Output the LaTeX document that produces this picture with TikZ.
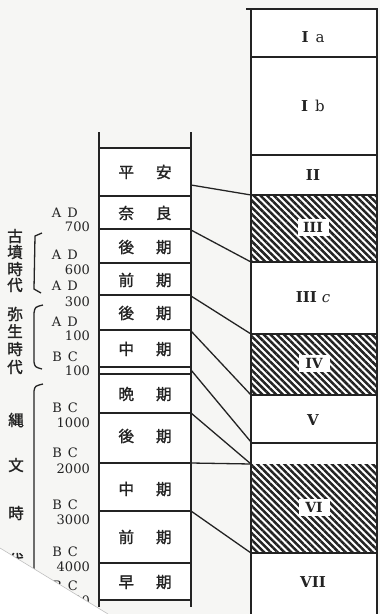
\documentclass[tikz,border=0pt]{standalone}
\usepackage{fontspec}
\newfontfamily\jp{Noto Sans CJK JP}[FakeBold=1.5]
\newfontfamily\ser{DejaVu Serif}
\usetikzlibrary{patterns.meta}
\definecolor{paper}{RGB}{246,246,244}
\definecolor{ink}{RGB}{35,35,35}
\tikzset{
  frame/.style={draw=ink, line width=1.4pt},
  link/.style={draw=ink, line width=1.3pt},
  hatch/.style={pattern={Lines[angle=-45,distance=4.8pt,line width=2.5pt]}, pattern color=ink},
  jlab/.style={font=\jp\fontsize{15.5}{15.5}\selectfont, inner sep=0pt, text=ink},
  vlab/.style={font=\jp\fontsize{15.5}{15.5}\selectfont, inner sep=0pt, text=ink},
  era/.style={font=\ser\fontsize{13}{13}\selectfont, inner sep=0pt, anchor=east, text=ink},
  yr/.style={font=\ser\fontsize{13}{13}\selectfont, inner sep=0pt, anchor=east, text=ink},
  rom/.style={font=\ser\bfseries\fontsize{15}{15}\selectfont, inner sep=0pt, text=ink},
  tag/.style={fill=white, inner sep=0pt, minimum width=31pt, minimum height=17pt, font=\ser\bfseries\fontsize{14}{14}\selectfont, text=ink},
  brk/.style={draw=ink, line width=1.3pt}
}
\begin{document}
\begin{tikzpicture}[x=1pt,y=-1pt]
\useasboundingbox (0,0) rectangle (380,614);
\fill[paper] (0,0) rectangle (380,614);
% right column
\fill[white] (251,9) rectangle (377,614);
\foreach \a/\b in {195/262, 334/395, 464/553}
  \fill[hatch] (251,\a) rectangle (377,\b);
\draw[frame] (246,9) -- (378,9);
\draw[frame] (251,9) -- (251,614);
\draw[frame] (377,9) -- (377,614);
\foreach \y in {57,155,195,262,334,395,443,553}
  \draw[frame] (251,\y) -- (377,\y);
% left column
\fill[white] (99,148) rectangle (191,600);
\draw[frame] (99,132) -- (99,607);
\draw[frame] (191,132) -- (191,607);
\foreach \y in {148,196,229,263,295,330,367,374,413,463,511,563,600}
  \draw[frame] (99,\y) -- (191,\y);
% connector end points
\coordinate (l1) at (191,185); \coordinate (r1) at (251,195);
\coordinate (l2) at (191,230); \coordinate (r2) at (251,262);
\coordinate (l3) at (191,296); \coordinate (r3) at (251,334);
\coordinate (l4) at (191,331); \coordinate (r4) at (251,395);
\coordinate (l5) at (191,370); \coordinate (r5) at (251,442);
\coordinate (l6) at (191,413); \coordinate (r6) at (251,464);
\coordinate (l7) at (191,463); \coordinate (r7) at (251,464);
\coordinate (l8) at (191,511); \coordinate (r8) at (251,553);
\foreach \i in {1,...,8} \draw[link] (l\i) -- (r\i);
% right column labels
\node[rom] (ia) at (313,37) {I\hspace{7pt}\mdseries a};
\node[rom] (ib) at (313,106) {I\hspace{7pt}\mdseries b};
\node[rom] (ii) at (313,175) {II};
\node[tag] (iii) at (313,227) {III};
\node[rom] (iiic) at (313,297) {III\hspace{5pt}\mdseries\itshape c};
\node[tag] (iv) at (314,363) {IV};
\node[rom] (v) at (313,420) {V};
\node[tag] (vi) at (314,507) {VI};
\node[rom] (vii) at (313,582) {VII};
% left column labels
\node[jlab] (heian) at (145,172) {平\hspace{22pt}安};
\node[jlab] (nara) at (145,213) {奈\hspace{22pt}良};
\node[jlab] (kofun2) at (145,247) {後\hspace{22pt}期};
\node[jlab] (kofun1) at (145,280) {前\hspace{22pt}期};
\node[jlab] (yayoi3) at (145,313) {後\hspace{22pt}期};
\node[jlab] (yayoi2) at (145,349) {中\hspace{22pt}期};
\node[jlab] (jomon5) at (145,394) {晩\hspace{22pt}期};
\node[jlab] (jomon4) at (145,436) {後\hspace{22pt}期};
\node[jlab] (jomon3) at (145,489) {中\hspace{22pt}期};
\node[jlab] (jomon2) at (145,537) {前\hspace{22pt}期};
\node[jlab] (jomon1) at (145,582) {早\hspace{22pt}期};
% years
\foreach \n/\e/\v/\ya/\yb in {a/A\hspace{6pt}D/700/213/227, b/A\hspace{6pt}D/600/255/270, c/A\hspace{6pt}D/300/286/302, d/A\hspace{6pt}D/100/322/336, e/B\hspace{6pt}C/100/357/371, f/B\hspace{6pt}C/1000/408/423, g/B\hspace{6pt}C/2000/453/469, h/B\hspace{6pt}C/3000/505/520, i/B\hspace{6pt}C/4000/552/567, j/B\hspace{6pt}C/5000/586/601}{
  \node[era] (era\n) at (78,\ya) {\e};
  \node[yr] (yr\n) at (90,\yb) {\v};
}
% eras
\foreach \c/\y [count=\k] in {古/236, 墳/252, 時/269, 代/285}
  \node[vlab] (kf\k) at (15,\y) {\c};
\foreach \c/\y [count=\k] in {弥/314, 生/331, 時/349, 代/367}
  \node[vlab] (ys\k) at (15,\y) {\c};
\foreach \c/\y [count=\k] in {縄/420, 文/465, 時/513, 代/560}
  \node[vlab] (jm\k) at (16,\y) {\c};
% brackets
\draw[brk] (42,233) -- (35,236) -- (34,289) -- (41,293);
\draw[brk] (43,305) .. controls (35,307) .. (34,313) -- (34,362) .. controls (35,367) .. (42,369);
\draw[brk] (43,384) .. controls (35,386) .. (34,391) -- (34,570);
% torn corner
\fill[white] (0,548) -- (108,614) -- (0,614) -- cycle;
\draw[black!25, line width=0.6pt] (0,548) -- (108,614);
\end{tikzpicture}
\end{document}
